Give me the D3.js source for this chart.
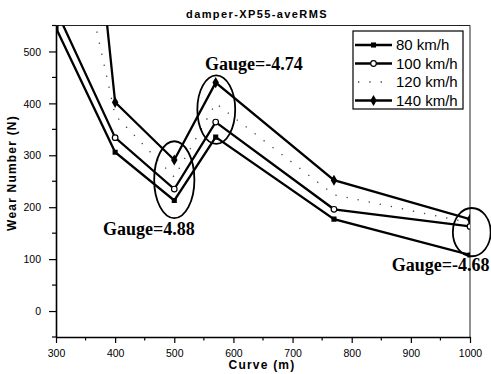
<!DOCTYPE html>
<html>
<head>
<meta charset="utf-8">
<script src="https://cdn.jsdelivr.net/npm/d3@7"></script>
<style>
  html, body { margin: 0; padding: 0; background: #fff; }
  svg { display: block; }
  .tick-label { font-family: "Liberation Sans", Arial, sans-serif; font-size: 10.5px; fill: #000; }
  .axis-title { font-family: "Liberation Sans", Arial, sans-serif; font-size: 12px; font-weight: bold; letter-spacing: 1.2px; fill: #000; }
  .gauge { font-family: "Liberation Serif", "Times New Roman", serif; font-size: 18px; font-weight: bold; fill: #000; }
  .legend-text { font-family: "Liberation Sans", Arial, sans-serif; font-size: 15px; fill: #000; }
</style>
</head>
<body>
<svg id="chart" width="491" height="374"></svg>
<script>
// Curve radius (m) along the x axis
const curves = [300, 400, 500, 570, 770, 1000];

// Wear number (N) per speed
const wear80  = [545, 306, 213, 335, 177, 108];
const wear100 = [580, 334, 235, 364, 196, 163];
const wear120 = [900, 377, 258, 400, 224, 170];
const wear140 = [1500, 402, 291, 440, 252, 177];

const seriesNames = ["80 km/h", "100 km/h", "120 km/h", "140 km/h"];

// Axis ticks
const xTicks = [300, 400, 500, 600, 700, 800, 900, 1000];
const xMinorTicks = [350, 450, 550, 650, 750, 850, 950];
const yTicks = [0, 100, 200, 300, 400, 500];
const yMinorTicks = [-50, 50, 150, 250, 350, 450, 550];

// Gauge groups: ellipse centre (curve, wear) and half-extents in data units
const gaugeText   = ["Gauge=4.88", "Gauge=-4.74", "Gauge=-4.68"];
const gaugeCurve  = [500, 571, 1003];
const gaugeWear   = [253, 388, 152];
const gaugeRCurve = [34, 32, 32];
const gaugeRWear  = [74, 66, 46.5];
const labelCurve  = [379.5, 552, 867.6];
const labelWear   = [147, 464, 78];

const svg = d3.select("#chart");
const plotLeft = 56, plotRight = 470, plotTop = 25.5, plotBottom = 337;

const x = d3.scaleLinear().domain([300, 1000]).range([plotLeft, plotRight]);
const y = d3.scaleLinear().domain([-50, 550]).range([plotBottom, plotTop]);

// Title
svg.append("text")
  .attr("x", 257).attr("y", 17.5)
  .attr("text-anchor", "middle")
  .style("font-family", "\"Liberation Sans\", Arial, sans-serif")
  .style("font-size", "11px").style("font-weight", "bold")
  .style("letter-spacing", "1.4px")
  .text("damper-XP55-aveRMS");

// Frame (top and right)
svg.append("line").attr("x1", plotLeft).attr("x2", plotRight).attr("y1", plotTop).attr("y2", plotTop)
  .attr("stroke", "#222").attr("stroke-width", 1);
svg.append("line").attr("x1", plotRight).attr("x2", plotRight).attr("y1", plotTop).attr("y2", plotBottom)
  .attr("stroke", "#222").attr("stroke-width", 1);

// Axes
const xAxis = d3.axisBottom(x).tickValues(xTicks).tickSize(6).tickSizeOuter(0).tickFormat(d3.format("d"));
const gx = svg.append("g").attr("transform", `translate(0,${plotBottom})`).call(xAxis);
gx.select(".domain").attr("stroke", "#000").attr("stroke-width", 1.6);
gx.selectAll(".tick line").attr("stroke", "#000").attr("stroke-width", 1.2);
gx.selectAll(".tick text").attr("class", "tick-label").attr("dy", null).attr("y", 20);
gx.selectAll(".minor").data(xMinorTicks).enter().append("line")
  .attr("x1", d => x(d)).attr("x2", d => x(d)).attr("y1", 0).attr("y2", 3.5)
  .attr("stroke", "#000").attr("stroke-width", 1.2);

const yAxis = d3.axisLeft(y).tickValues(yTicks).tickSize(7).tickSizeOuter(0).tickFormat(d3.format("d"));
const gy = svg.append("g").attr("transform", `translate(${plotLeft},0)`).call(yAxis);
gy.select(".domain").attr("stroke", "#000").attr("stroke-width", 1.6);
gy.selectAll(".tick line").attr("stroke", "#000").attr("stroke-width", 1.2);
gy.selectAll(".tick text").attr("class", "tick-label").attr("x", -15).attr("dy", "0.35em");
gy.selectAll(".minor").data(yMinorTicks).enter().append("line")
  .attr("y1", d => y(d)).attr("y2", d => y(d)).attr("x1", 0).attr("x2", -4)
  .attr("stroke", "#000").attr("stroke-width", 1.2);

// Axis titles
svg.append("text").attr("class", "axis-title")
  .attr("x", 262).attr("y", 369).attr("text-anchor", "middle")
  .text("Curve (m)");
svg.append("text").attr("class", "axis-title")
  .attr("transform", "translate(16,173) rotate(-90)")
  .attr("text-anchor", "middle")
  .text("Wear Number (N)");

// Clip for series lines
svg.append("clipPath").attr("id", "plotClip")
  .append("rect").attr("x", plotLeft).attr("y", plotTop)
  .attr("width", plotRight - plotLeft).attr("height", plotBottom - plotTop);

const line = d3.line().x(d => x(d[0])).y(d => y(d[1]));
const plot = svg.append("g").attr("clip-path", "url(#plotClip)");

const seriesData = [wear80, wear100, wear120, wear140].map(vals => curves.map((c, i) => [c, vals[i]]));

// 120 km/h: sparse dotted trace
plot.append("path").datum(seriesData[2]).attr("d", line)
  .attr("fill", "none").attr("stroke", "#444").attr("stroke-width", 1.3)
  .attr("stroke-dasharray", "1.3,10");

[0, 1, 3].forEach(k => {
  plot.append("path").datum(seriesData[k]).attr("d", line)
    .attr("fill", "none").attr("stroke", "#000").attr("stroke-width", 2.3)
    .attr("stroke-linejoin", "miter");
});

// Markers
const sq = d3.symbol().type(d3.symbolSquare).size(26);
const di = d3.symbol().type(d3.symbolDiamond).size(36);
plot.selectAll(".m80").data(seriesData[0]).enter().append("path")
  .attr("transform", d => `translate(${x(d[0])},${y(d[1])})`).attr("d", sq).attr("fill", "#000");
plot.selectAll(".m100").data(seriesData[1]).enter().append("circle")
  .attr("cx", d => x(d[0])).attr("cy", d => y(d[1])).attr("r", 2.8)
  .attr("fill", "#fff").attr("stroke", "#000").attr("stroke-width", 1.2);
plot.selectAll(".m140").data(seriesData[3]).enter().append("path")
  .attr("transform", d => `translate(${x(d[0])},${y(d[1])})`).attr("d", di).attr("fill", "#000");

// Gauge ellipses and labels
gaugeText.forEach((t, i) => {
  svg.append("ellipse")
    .attr("cx", x(gaugeCurve[i])).attr("cy", y(gaugeWear[i]))
    .attr("rx", x(gaugeCurve[i] + gaugeRCurve[i]) - x(gaugeCurve[i]))
    .attr("ry", y(gaugeWear[i] - gaugeRWear[i]) - y(gaugeWear[i]))
    .attr("fill", "none").attr("stroke", "#000").attr("stroke-width", 1.8);
  svg.append("text").attr("class", "gauge")
    .attr("x", x(labelCurve[i])).attr("y", y(labelWear[i]))
    .text(t);
});

// Legend
const lg = svg.append("g");
lg.append("rect").attr("x", 353).attr("y", 31).attr("width", 110).attr("height", 78)
  .attr("fill", "#fff").attr("stroke", "#000").attr("stroke-width", 1.2);
const rowY = [45, 63.5, 82, 100.5];
seriesNames.forEach((name, k) => {
  const yy = rowY[k];
  if (k === 2) {
    lg.append("line").attr("x1", 358).attr("x2", 391).attr("y1", yy).attr("y2", yy)
      .attr("stroke", "#444").attr("stroke-width", 1.3).attr("stroke-dasharray", "1.3,10");
  } else {
    lg.append("line").attr("x1", 355).attr("x2", 392).attr("y1", yy).attr("y2", yy)
      .attr("stroke", "#000").attr("stroke-width", 2.3);
  }
  if (k === 0) lg.append("path").attr("transform", `translate(373.5,${yy})`).attr("d", sq).attr("fill", "#000");
  if (k === 1) lg.append("circle").attr("cx", 373.5).attr("cy", yy).attr("r", 2.8)
    .attr("fill", "#fff").attr("stroke", "#000").attr("stroke-width", 1.2);
  if (k === 3) lg.append("path").attr("transform", `translate(373.5,${yy})`).attr("d", di).attr("fill", "#000");
  lg.append("text").attr("class", "legend-text").attr("x", 396).attr("y", yy + 5.3).text(name);
});
</script>
</body>
</html>
